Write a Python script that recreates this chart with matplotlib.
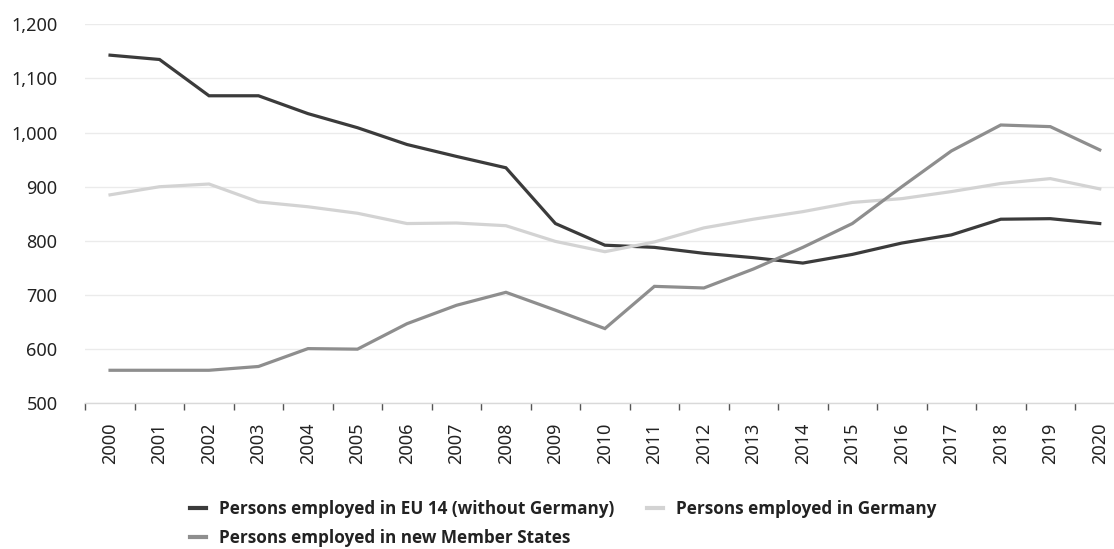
import matplotlib
matplotlib.use("Agg")
import matplotlib.pyplot as plt
import numpy as np

years = [str(y) for y in range(2000, 2021)]
eu14 = [1143, 1135, 1068, 1068, 1035, 1009, 978, 956, 935, 832, 792, 788, 777, 769, 759, 775, 796, 811, 840, 841, 832]
germany = [885, 900, 905, 872, 863, 851, 832, 833, 828, 799, 780, 798, 824, 840, 854, 871, 878, 891, 906, 915, 896]
newms = [561, 561, 561, 568, 601, 600, 647, 681, 705, 672, 638, 716, 713, 748, 788, 832, 900, 966, 1014, 1011, 968]
yticks = [500, 600, 700, 800, 900, 1000, 1100, 1200]
labels = ["Persons employed in EU 14 (without Germany)",
          "Persons employed in Germany",
          "Persons employed in new Member States"]

plt.rcParams['font.family'] = ['Noto Sans', 'DejaVu Sans']

W, H = 1114, 549
fig = plt.figure(figsize=(W / 100, H / 100), dpi=100)
left, right, top, bottom = 85.3, 1124.5, 24.3, 403.3
ax = fig.add_axes([left / W, 1 - bottom / H, (right - left) / W, (bottom - top) / H])

x = np.arange(len(years))
l1, = ax.plot(x, eu14, color='#3b3b3b', lw=2.3, solid_joinstyle='miter', zorder=3)
l2, = ax.plot(x, germany, color='#d3d3d3', lw=2.3, solid_joinstyle='miter', zorder=3)
l3, = ax.plot(x, newms, color='#8e8e8e', lw=2.3, solid_joinstyle='miter', zorder=3)

ax.set_xlim(-0.5, len(years) - 0.5)
ax.set_ylim(500, 1200)
ax.set_yticks(yticks)
ax.set_yticklabels([f"{v:,}" for v in yticks])
ax.grid(axis='y', color='#ebebeb', lw=1)
ax.set_axisbelow(True)

for s in ['top', 'right', 'left']:
    ax.spines[s].set_visible(False)
ax.spines['bottom'].set_color('#d9d9d9')
ax.spines['bottom'].set_linewidth(1)

ax.set_xticks(x)
ax.set_xticklabels(years, rotation=90, va='top', ha='center')
ax.set_xticks(np.arange(-0.5, len(years), 1), minor=True)
ax.tick_params(axis='x', which='major', length=0, pad=14, labelsize=13, labelcolor='#222222')
ax.tick_params(axis='x', which='minor', length=5, width=1, color='#555555', direction='out')
ax.tick_params(axis='y', length=0, pad=20, labelsize=13, labelcolor='#222222')

leg = fig.legend([l1, l3, l2], [labels[0], labels[2], labels[1]],
                 ncol=2, loc='upper left', bbox_to_anchor=(190 / W, 1 - 500 / H),
                 frameon=False, handlelength=0.94, handletextpad=0.76, columnspacing=1.93,
                 labelspacing=0.62, borderaxespad=0, borderpad=0,
                 prop={'family': ['Open Sans', 'DejaVu Sans'], 'weight': 'bold', 'size': 12.3})
for t in leg.get_texts():
    t.set_color('#222222')
for h in leg.legend_handles:
    h.set_linewidth(3)

fig.savefig("out.png", dpi=100)
